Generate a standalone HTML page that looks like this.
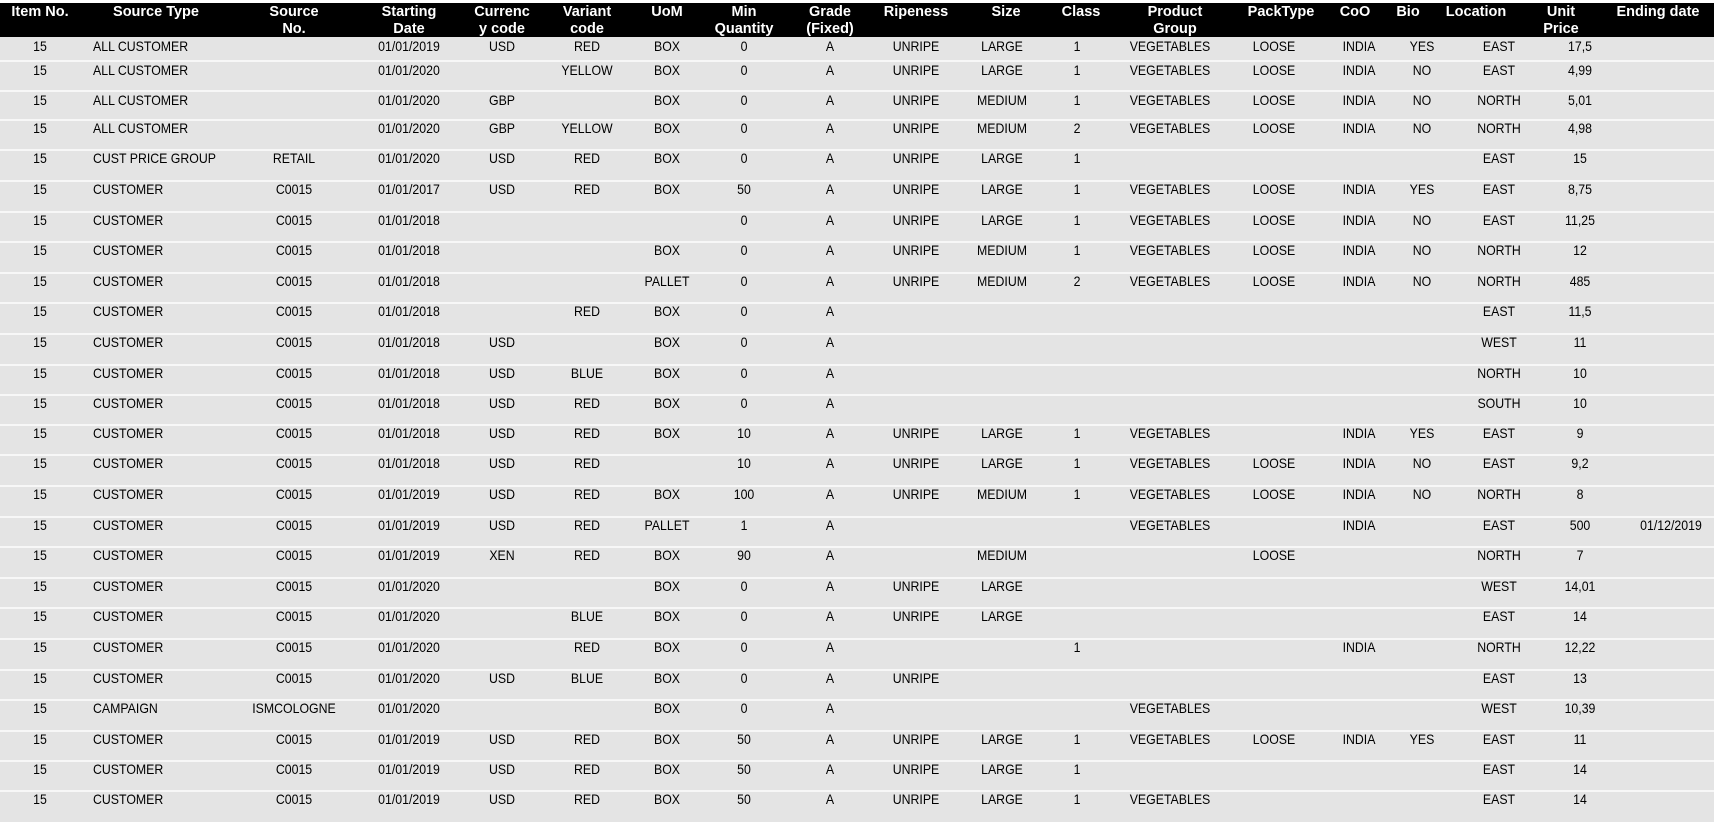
<!DOCTYPE html>
<html><head><meta charset="utf-8">
<style>
body{margin:0;width:1714px;height:827px;background:#fff;position:relative;overflow:hidden;font-family:"Liberation Sans",Arial,sans-serif;}
#hd{position:absolute;left:0;top:3px;width:1714px;height:34px;background:#000;}
#bg{position:absolute;left:0;top:37px;width:1714px;height:785px;background:#e4e4e4;}
.ln{position:absolute;left:0;width:1714px;height:2px;background:#f7f7f7;}
.h{position:absolute;top:4px;color:#fff;font-weight:bold;font-size:14.5px;line-height:16.5px;text-align:center;transform:translateX(-50%);white-space:nowrap;}
.r{position:absolute;left:0;width:1714px;height:16px;font-size:14px;line-height:16px;color:#000;}
.r span{position:absolute;top:0;transform:translateX(-50%) scaleX(0.88);white-space:nowrap;}
.r span.b{transform:scaleX(0.88);transform-origin:left center;}
.a{left:40px}.b{left:93px}.c{left:294px}.d{left:409px}.e{left:502px}.f{left:587px}.g{left:667px}.h2{left:744px}.i{left:830px}.j{left:916px}.k{left:1002px}.l{left:1077px}.m{left:1170px}.n{left:1274px}.o{left:1359px}.p{left:1422px}.q{left:1499px}.s{left:1580px}.t{left:1671px}
</style></head><body>
<div id="hd"></div><div id="bg"></div>
<div class="h" style="left:40px">Item No.</div>
<div class="h" style="left:156px">Source Type</div>
<div class="h" style="left:294px">Source<br>No.</div>
<div class="h" style="left:409px">Starting<br>Date</div>
<div class="h" style="left:502px">Currenc<br>y code</div>
<div class="h" style="left:587px">Variant<br>code</div>
<div class="h" style="left:667px">UoM</div>
<div class="h" style="left:744px">Min<br>Quantity</div>
<div class="h" style="left:830px">Grade<br>(Fixed)</div>
<div class="h" style="left:916px">Ripeness</div>
<div class="h" style="left:1006px">Size</div>
<div class="h" style="left:1081px">Class</div>
<div class="h" style="left:1175px">Product<br>Group</div>
<div class="h" style="left:1281px">PackType</div>
<div class="h" style="left:1355px">CoO</div>
<div class="h" style="left:1408px">Bio</div>
<div class="h" style="left:1476px">Location</div>
<div class="h" style="left:1561px">Unit<br>Price</div>
<div class="h" style="left:1658px">Ending date</div>

<div class="ln" style="top:60px"></div><div class="ln" style="top:90px"></div><div class="ln" style="top:119px"></div><div class="ln" style="top:149px"></div><div class="ln" style="top:180px"></div><div class="ln" style="top:211px"></div><div class="ln" style="top:241px"></div><div class="ln" style="top:272px"></div><div class="ln" style="top:302px"></div><div class="ln" style="top:333px"></div><div class="ln" style="top:364px"></div><div class="ln" style="top:394px"></div><div class="ln" style="top:424px"></div><div class="ln" style="top:454px"></div><div class="ln" style="top:485px"></div><div class="ln" style="top:516px"></div><div class="ln" style="top:546px"></div><div class="ln" style="top:577px"></div><div class="ln" style="top:607px"></div><div class="ln" style="top:638px"></div><div class="ln" style="top:669px"></div><div class="ln" style="top:699px"></div><div class="ln" style="top:730px"></div><div class="ln" style="top:760px"></div><div class="ln" style="top:790px"></div>

<div class="r" style="top:38px"><span class="a">15</span><span class="b">ALL CUSTOMER</span><span class="d">01/01/2019</span><span class="e">USD</span><span class="f">RED</span><span class="g">BOX</span><span class="h2">0</span><span class="i">A</span><span class="j">UNRIPE</span><span class="k">LARGE</span><span class="l">1</span><span class="m">VEGETABLES</span><span class="n">LOOSE</span><span class="o">INDIA</span><span class="p">YES</span><span class="q">EAST</span><span class="s">17,5</span></div>
<div class="r" style="top:62px"><span class="a">15</span><span class="b">ALL CUSTOMER</span><span class="d">01/01/2020</span><span class="f">YELLOW</span><span class="g">BOX</span><span class="h2">0</span><span class="i">A</span><span class="j">UNRIPE</span><span class="k">LARGE</span><span class="l">1</span><span class="m">VEGETABLES</span><span class="n">LOOSE</span><span class="o">INDIA</span><span class="p">NO</span><span class="q">EAST</span><span class="s">4,99</span></div>
<div class="r" style="top:92px"><span class="a">15</span><span class="b">ALL CUSTOMER</span><span class="d">01/01/2020</span><span class="e">GBP</span><span class="g">BOX</span><span class="h2">0</span><span class="i">A</span><span class="j">UNRIPE</span><span class="k">MEDIUM</span><span class="l">1</span><span class="m">VEGETABLES</span><span class="n">LOOSE</span><span class="o">INDIA</span><span class="p">NO</span><span class="q">NORTH</span><span class="s">5,01</span></div>
<div class="r" style="top:120px"><span class="a">15</span><span class="b">ALL CUSTOMER</span><span class="d">01/01/2020</span><span class="e">GBP</span><span class="f">YELLOW</span><span class="g">BOX</span><span class="h2">0</span><span class="i">A</span><span class="j">UNRIPE</span><span class="k">MEDIUM</span><span class="l">2</span><span class="m">VEGETABLES</span><span class="n">LOOSE</span><span class="o">INDIA</span><span class="p">NO</span><span class="q">NORTH</span><span class="s">4,98</span></div>
<div class="r" style="top:150px"><span class="a">15</span><span class="b">CUST PRICE GROUP</span><span class="c">RETAIL</span><span class="d">01/01/2020</span><span class="e">USD</span><span class="f">RED</span><span class="g">BOX</span><span class="h2">0</span><span class="i">A</span><span class="j">UNRIPE</span><span class="k">LARGE</span><span class="l">1</span><span class="q">EAST</span><span class="s">15</span></div>
<div class="r" style="top:181px"><span class="a">15</span><span class="b">CUSTOMER</span><span class="c">C0015</span><span class="d">01/01/2017</span><span class="e">USD</span><span class="f">RED</span><span class="g">BOX</span><span class="h2">50</span><span class="i">A</span><span class="j">UNRIPE</span><span class="k">LARGE</span><span class="l">1</span><span class="m">VEGETABLES</span><span class="n">LOOSE</span><span class="o">INDIA</span><span class="p">YES</span><span class="q">EAST</span><span class="s">8,75</span></div>
<div class="r" style="top:212px"><span class="a">15</span><span class="b">CUSTOMER</span><span class="c">C0015</span><span class="d">01/01/2018</span><span class="h2">0</span><span class="i">A</span><span class="j">UNRIPE</span><span class="k">LARGE</span><span class="l">1</span><span class="m">VEGETABLES</span><span class="n">LOOSE</span><span class="o">INDIA</span><span class="p">NO</span><span class="q">EAST</span><span class="s">11,25</span></div>
<div class="r" style="top:242px"><span class="a">15</span><span class="b">CUSTOMER</span><span class="c">C0015</span><span class="d">01/01/2018</span><span class="g">BOX</span><span class="h2">0</span><span class="i">A</span><span class="j">UNRIPE</span><span class="k">MEDIUM</span><span class="l">1</span><span class="m">VEGETABLES</span><span class="n">LOOSE</span><span class="o">INDIA</span><span class="p">NO</span><span class="q">NORTH</span><span class="s">12</span></div>
<div class="r" style="top:273px"><span class="a">15</span><span class="b">CUSTOMER</span><span class="c">C0015</span><span class="d">01/01/2018</span><span class="g">PALLET</span><span class="h2">0</span><span class="i">A</span><span class="j">UNRIPE</span><span class="k">MEDIUM</span><span class="l">2</span><span class="m">VEGETABLES</span><span class="n">LOOSE</span><span class="o">INDIA</span><span class="p">NO</span><span class="q">NORTH</span><span class="s">485</span></div>
<div class="r" style="top:303px"><span class="a">15</span><span class="b">CUSTOMER</span><span class="c">C0015</span><span class="d">01/01/2018</span><span class="f">RED</span><span class="g">BOX</span><span class="h2">0</span><span class="i">A</span><span class="q">EAST</span><span class="s">11,5</span></div>
<div class="r" style="top:334px"><span class="a">15</span><span class="b">CUSTOMER</span><span class="c">C0015</span><span class="d">01/01/2018</span><span class="e">USD</span><span class="g">BOX</span><span class="h2">0</span><span class="i">A</span><span class="q">WEST</span><span class="s">11</span></div>
<div class="r" style="top:365px"><span class="a">15</span><span class="b">CUSTOMER</span><span class="c">C0015</span><span class="d">01/01/2018</span><span class="e">USD</span><span class="f">BLUE</span><span class="g">BOX</span><span class="h2">0</span><span class="i">A</span><span class="q">NORTH</span><span class="s">10</span></div>
<div class="r" style="top:395px"><span class="a">15</span><span class="b">CUSTOMER</span><span class="c">C0015</span><span class="d">01/01/2018</span><span class="e">USD</span><span class="f">RED</span><span class="g">BOX</span><span class="h2">0</span><span class="i">A</span><span class="q">SOUTH</span><span class="s">10</span></div>
<div class="r" style="top:425px"><span class="a">15</span><span class="b">CUSTOMER</span><span class="c">C0015</span><span class="d">01/01/2018</span><span class="e">USD</span><span class="f">RED</span><span class="g">BOX</span><span class="h2">10</span><span class="i">A</span><span class="j">UNRIPE</span><span class="k">LARGE</span><span class="l">1</span><span class="m">VEGETABLES</span><span class="o">INDIA</span><span class="p">YES</span><span class="q">EAST</span><span class="s">9</span></div>
<div class="r" style="top:455px"><span class="a">15</span><span class="b">CUSTOMER</span><span class="c">C0015</span><span class="d">01/01/2018</span><span class="e">USD</span><span class="f">RED</span><span class="h2">10</span><span class="i">A</span><span class="j">UNRIPE</span><span class="k">LARGE</span><span class="l">1</span><span class="m">VEGETABLES</span><span class="n">LOOSE</span><span class="o">INDIA</span><span class="p">NO</span><span class="q">EAST</span><span class="s">9,2</span></div>
<div class="r" style="top:486px"><span class="a">15</span><span class="b">CUSTOMER</span><span class="c">C0015</span><span class="d">01/01/2019</span><span class="e">USD</span><span class="f">RED</span><span class="g">BOX</span><span class="h2">100</span><span class="i">A</span><span class="j">UNRIPE</span><span class="k">MEDIUM</span><span class="l">1</span><span class="m">VEGETABLES</span><span class="n">LOOSE</span><span class="o">INDIA</span><span class="p">NO</span><span class="q">NORTH</span><span class="s">8</span></div>
<div class="r" style="top:517px"><span class="a">15</span><span class="b">CUSTOMER</span><span class="c">C0015</span><span class="d">01/01/2019</span><span class="e">USD</span><span class="f">RED</span><span class="g">PALLET</span><span class="h2">1</span><span class="i">A</span><span class="m">VEGETABLES</span><span class="o">INDIA</span><span class="q">EAST</span><span class="s">500</span><span class="t">01/12/2019</span></div>
<div class="r" style="top:547px"><span class="a">15</span><span class="b">CUSTOMER</span><span class="c">C0015</span><span class="d">01/01/2019</span><span class="e">XEN</span><span class="f">RED</span><span class="g">BOX</span><span class="h2">90</span><span class="i">A</span><span class="k">MEDIUM</span><span class="n">LOOSE</span><span class="q">NORTH</span><span class="s">7</span></div>
<div class="r" style="top:578px"><span class="a">15</span><span class="b">CUSTOMER</span><span class="c">C0015</span><span class="d">01/01/2020</span><span class="g">BOX</span><span class="h2">0</span><span class="i">A</span><span class="j">UNRIPE</span><span class="k">LARGE</span><span class="q">WEST</span><span class="s">14,01</span></div>
<div class="r" style="top:608px"><span class="a">15</span><span class="b">CUSTOMER</span><span class="c">C0015</span><span class="d">01/01/2020</span><span class="f">BLUE</span><span class="g">BOX</span><span class="h2">0</span><span class="i">A</span><span class="j">UNRIPE</span><span class="k">LARGE</span><span class="q">EAST</span><span class="s">14</span></div>
<div class="r" style="top:639px"><span class="a">15</span><span class="b">CUSTOMER</span><span class="c">C0015</span><span class="d">01/01/2020</span><span class="f">RED</span><span class="g">BOX</span><span class="h2">0</span><span class="i">A</span><span class="l">1</span><span class="o">INDIA</span><span class="q">NORTH</span><span class="s">12,22</span></div>
<div class="r" style="top:670px"><span class="a">15</span><span class="b">CUSTOMER</span><span class="c">C0015</span><span class="d">01/01/2020</span><span class="e">USD</span><span class="f">BLUE</span><span class="g">BOX</span><span class="h2">0</span><span class="i">A</span><span class="j">UNRIPE</span><span class="q">EAST</span><span class="s">13</span></div>
<div class="r" style="top:700px"><span class="a">15</span><span class="b">CAMPAIGN</span><span class="c">ISMCOLOGNE</span><span class="d">01/01/2020</span><span class="g">BOX</span><span class="h2">0</span><span class="i">A</span><span class="m">VEGETABLES</span><span class="q">WEST</span><span class="s">10,39</span></div>
<div class="r" style="top:731px"><span class="a">15</span><span class="b">CUSTOMER</span><span class="c">C0015</span><span class="d">01/01/2019</span><span class="e">USD</span><span class="f">RED</span><span class="g">BOX</span><span class="h2">50</span><span class="i">A</span><span class="j">UNRIPE</span><span class="k">LARGE</span><span class="l">1</span><span class="m">VEGETABLES</span><span class="n">LOOSE</span><span class="o">INDIA</span><span class="p">YES</span><span class="q">EAST</span><span class="s">11</span></div>
<div class="r" style="top:761px"><span class="a">15</span><span class="b">CUSTOMER</span><span class="c">C0015</span><span class="d">01/01/2019</span><span class="e">USD</span><span class="f">RED</span><span class="g">BOX</span><span class="h2">50</span><span class="i">A</span><span class="j">UNRIPE</span><span class="k">LARGE</span><span class="l">1</span><span class="q">EAST</span><span class="s">14</span></div>
<div class="r" style="top:791px"><span class="a">15</span><span class="b">CUSTOMER</span><span class="c">C0015</span><span class="d">01/01/2019</span><span class="e">USD</span><span class="f">RED</span><span class="g">BOX</span><span class="h2">50</span><span class="i">A</span><span class="j">UNRIPE</span><span class="k">LARGE</span><span class="l">1</span><span class="m">VEGETABLES</span><span class="q">EAST</span><span class="s">14</span></div>
</body></html>
